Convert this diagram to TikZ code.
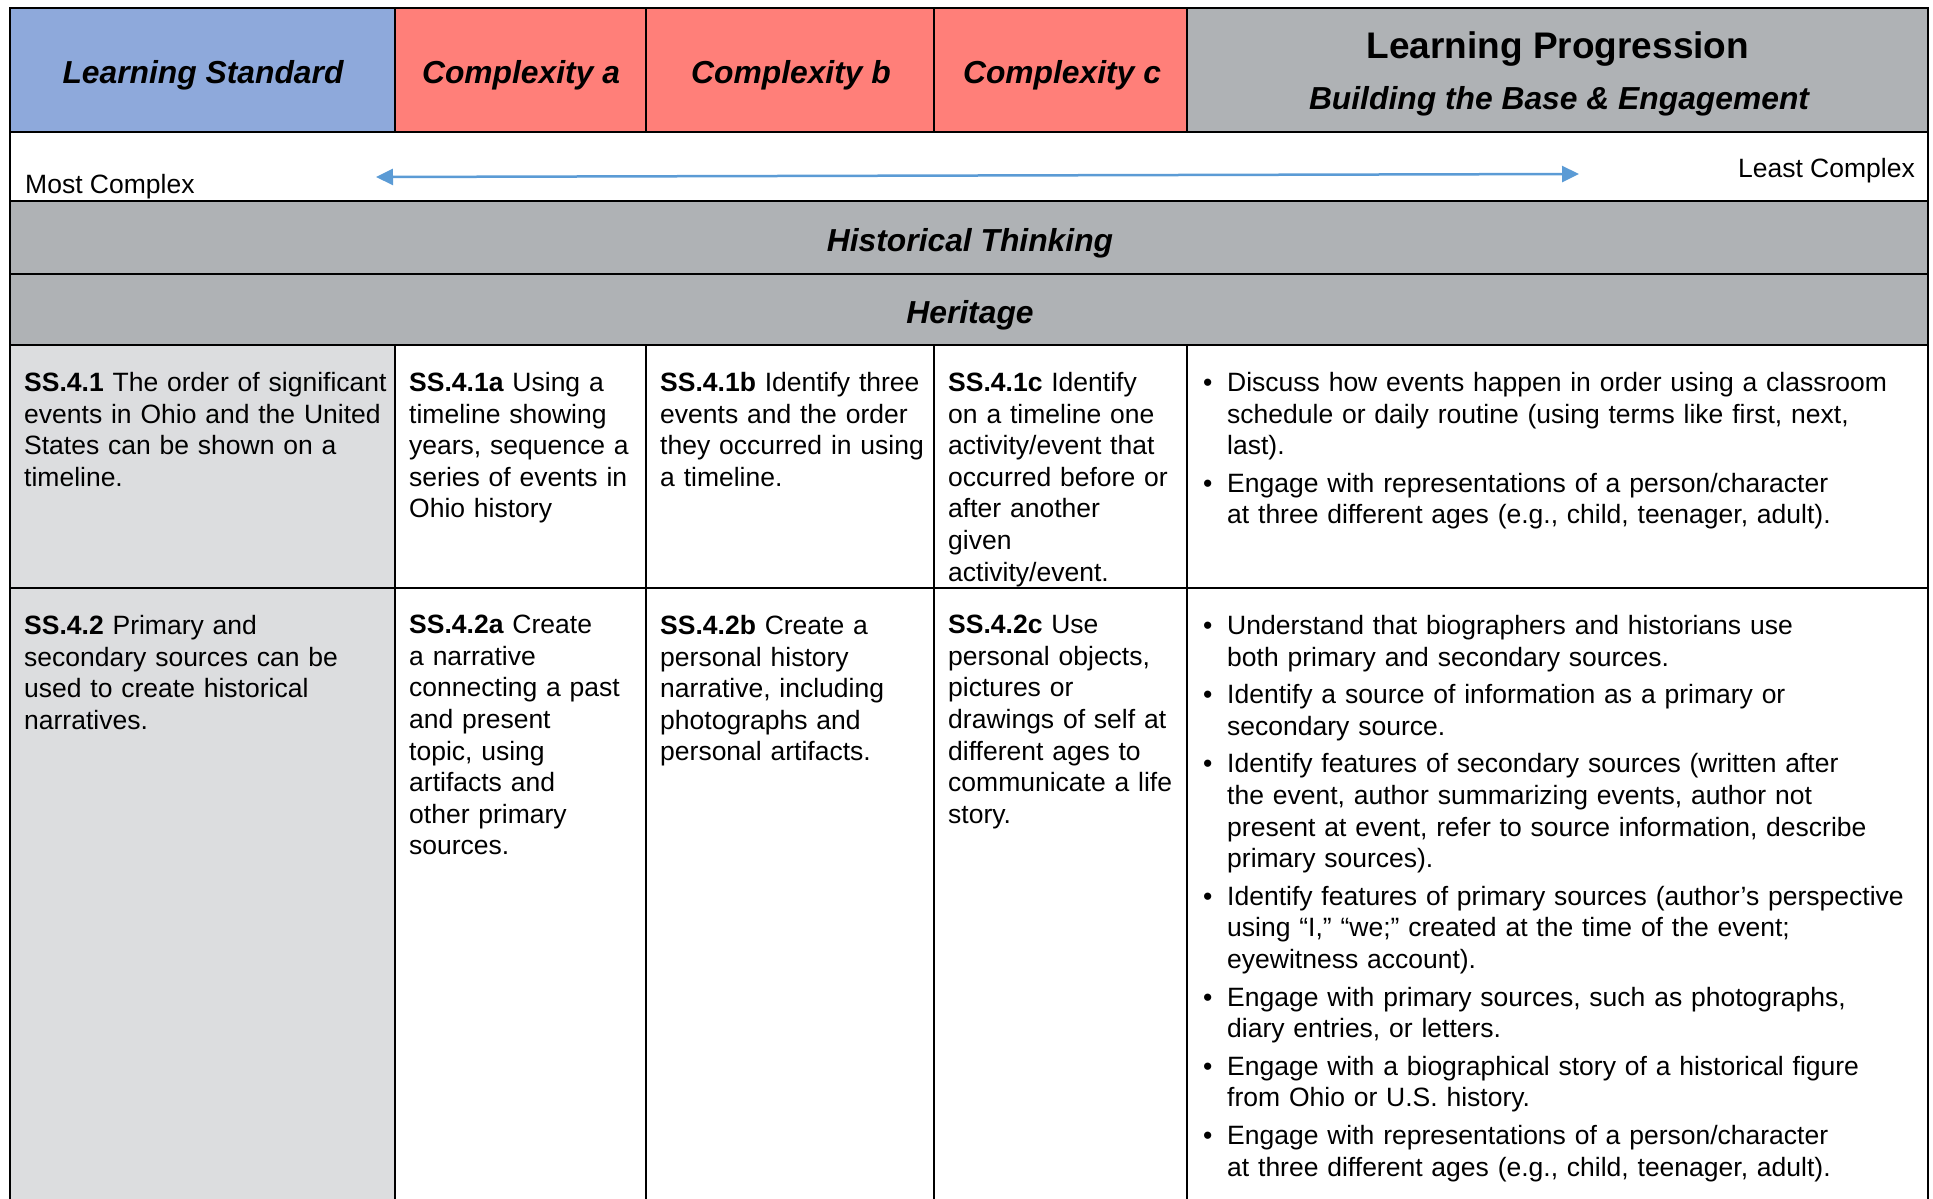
\documentclass[tikz,border=0pt]{standalone}
\usepackage{fontspec}
\setmainfont{Liberation Sans}
\usetikzlibrary{arrows.meta, positioning}

\definecolor{stdblue}{RGB}{142,169,219}
\definecolor{cxsalmon}{RGB}{255,127,121}
\definecolor{lpgray}{RGB}{175,178,181}
\definecolor{stdgray}{RGB}{220,221,223}
\definecolor{arrowblue}{RGB}{91,155,213}

% bullet with hanging indent; \\ breaks the line inside the item
\newcommand{\lpitem}[1]{{\let\\\newline\noindent\hangindent=24pt\hangafter=1\makebox[24pt][l]{\textbullet}#1\par}}

\begin{document}
\begin{tikzpicture}[
    x=1pt, y=-1pt,
    grid/.style={draw=black, line width=2.5pt},
    headtext/.style={anchor=base, inner sep=0pt, font=\fontsize{31.8}{38}\selectfont\bfseries\itshape},
    celltext/.style={anchor=north west, inner sep=0pt, align=left, font=\fontsize{26.5}{31.6}\selectfont},
    scalelabel/.style={inner sep=0pt, font=\fontsize{26.5}{31.6}\selectfont}
]
\useasboundingbox (0,0) rectangle (1933,1199);

% Cell backgrounds
\fill[stdblue] (10,8) rectangle (395,132);
\fill[cxsalmon] (395,8) rectangle (1187,132);
\fill[lpgray] (1187,8) rectangle (1928,132);
\fill[lpgray] (10,201) rectangle (1928,345);
\fill[stdgray] (10,345) rectangle (395,1199);

% Grid lines
\draw[grid] (10,1199) -- (10,8) -- (1928,8) -- (1928,1199);
\foreach \y in {132,201,274,345,588}
  \draw[grid] (10,\y) -- (1928,\y);
\foreach \x in {395,646,934,1187} {
  \draw[grid] (\x,8) -- (\x,132);
  \draw[grid] (\x,345) -- (\x,1199);
}

% Header
\node[headtext] (std) at (203,83) {Learning Standard};
\node[headtext] (cxa) at (521,83) {Complexity a};
\node[headtext] (cxb) at (791,83) {Complexity b};
\node[headtext] (cxc) at (1062,83) {Complexity c};
\node[headtext, font=\fontsize{37}{44}\selectfont\bfseries] (lp) at (1558,59) {Learning Progression};
\node[headtext] (lpsub) at (1559,109) {Building the Base \& Engagement};

% Complexity scale
\node[scalelabel, anchor=base west] (most) at (25,193) {Most Complex};
\node[scalelabel, anchor=base east] (least) at (1915,177) {Least Complex};
\coordinate (arrowL) at (376,177);
\coordinate (arrowR) at (1579,174);
\draw[arrowblue, line width=2.5pt, {Triangle[length=17pt,width=16pt]}-{Triangle[length=17pt,width=16pt]}] (arrowL) -- (arrowR);

% Strand and topic
\node[headtext] (strand) at (970,251) {Historical Thinking};
\node[headtext] (topic) at (970,323) {Heritage};

% Row SS.4.1
\node[celltext, text width=400pt] (s41) at (24,372) {\textbf{SS.4.1} The order of significant\\ events in Ohio and the United\\ States can be shown on a\\ timeline.};
\node[celltext, text width=280pt] (s41a) at (409,372) {\textbf{SS.4.1a} Using a\\ timeline showing\\ years, sequence a\\ series of events in\\ Ohio history};
\node[celltext, text width=300pt] (s41b) at (660,372) {\textbf{SS.4.1b} Identify three\\ events and the order\\ they occurred in using\\ a timeline.};
\node[celltext, text width=280pt] (s41c) at (948,372) {\textbf{SS.4.1c} Identify\\ on a timeline one\\ activity/event that\\ occurred before or\\ after another\\ given\\ activity/event.};
\node[celltext, text width=740pt] (lp41) at (1203,372) {%
  \lpitem{Discuss how events happen in order using a classroom\\ schedule or daily routine (using terms like first, next,\\ last).}
  \vspace{6pt}
  \lpitem{Engage with representations of a person/character\\ at three different ages (e.g., child, teenager, adult).}};

% Row SS.4.2
\node[celltext, text width=400pt] (s42) at (24,615) {\textbf{SS.4.2} Primary and\\ secondary sources can be\\ used to create historical\\ narratives.};
\node[celltext, text width=280pt] (s42a) at (409,615) {\textbf{SS.4.2a} Create\\ a narrative\\ connecting a past\\ and present\\ topic, using\\ artifacts and\\ other primary\\ sources.};
\node[celltext, text width=300pt] (s42b) at (660,615) {\textbf{SS.4.2b} Create a\\ personal history\\ narrative, including\\ photographs and\\ personal artifacts.};
\node[celltext, text width=280pt] (s42c) at (948,615) {\textbf{SS.4.2c} Use\\ personal objects,\\ pictures or\\ drawings of self at\\ different ages to\\ communicate a life\\ story.};
\node[celltext, text width=740pt] (lp42) at (1203,615) {%
  \lpitem{Understand that biographers and historians use\\ both primary and secondary sources.}
  \vspace{6pt}
  \lpitem{Identify a source of information as a primary or\\ secondary source.}
  \vspace{6pt}
  \lpitem{Identify features of secondary sources (written after\\ the event, author summarizing events, author not\\ present at event, refer to source information, describe\\ primary sources).}
  \vspace{6pt}
  \lpitem{Identify features of primary sources (author’s perspective\\ using “I,” “we;” created at the time of the event;\\ eyewitness account).}
  \vspace{6pt}
  \lpitem{Engage with primary sources, such as photographs,\\ diary entries, or letters.}
  \vspace{6pt}
  \lpitem{Engage with a biographical story of a historical figure\\ from Ohio or U.S. history.}
  \vspace{6pt}
  \lpitem{Engage with representations of a person/character\\ at three different ages (e.g., child, teenager, adult).}};

\end{tikzpicture}
\end{document}
